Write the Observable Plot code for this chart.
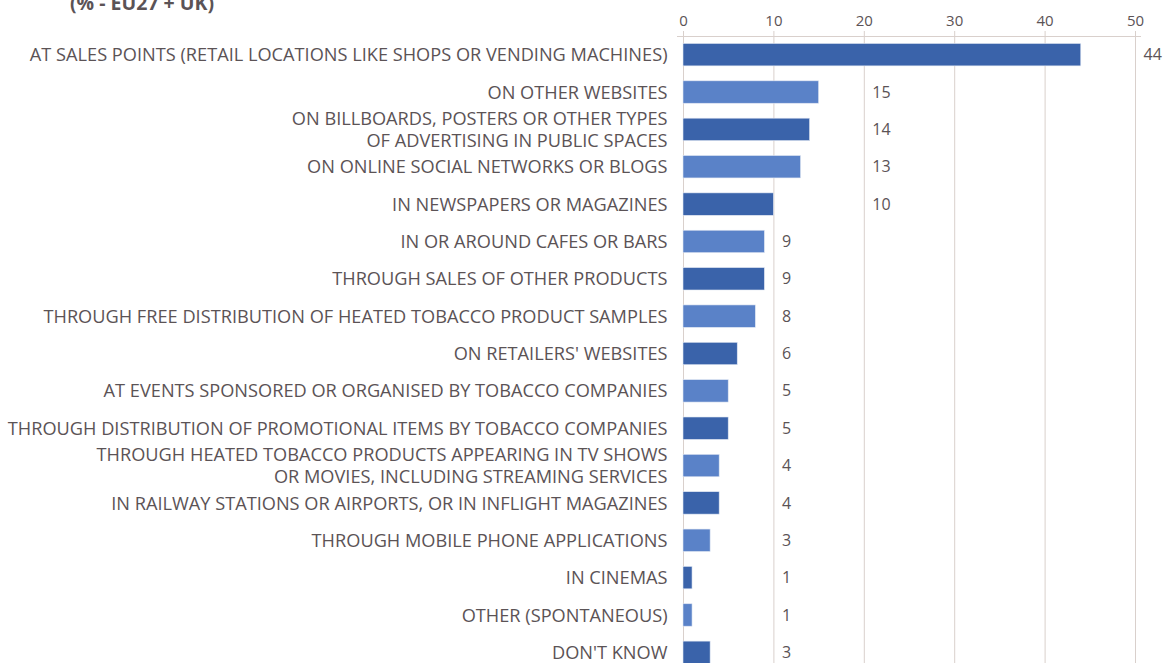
<!DOCTYPE html>
<html>
<head>
<meta charset="utf-8">
<script src="https://cdn.jsdelivr.net/npm/d3@7"></script>
<script src="https://cdn.jsdelivr.net/npm/@observablehq/plot@0.6"></script>
<style>
  html, body { margin: 0; padding: 0; background: #fff; overflow: hidden; }
  #wrap { position: relative; width: 1165px; height: 663px; overflow: hidden; }
  #title { position: absolute; left: 70px; top: -11px; font-family: "Open Sans", sans-serif; font-weight: bold; font-size: 19.5px; color: #5b5356; white-space: nowrap; }
  #chart { position: absolute; left: 0; top: 0; }
</style>
</head>
<body>
<div id="wrap">
  <div id="title">(% - EU27 + UK)</div>
  <div id="chart"></div>
</div>
<script>
const categories = [
  "AT SALES POINTS (RETAIL LOCATIONS LIKE SHOPS OR VENDING MACHINES)",
  "ON OTHER WEBSITES",
  "ON BILLBOARDS, POSTERS OR OTHER TYPES\nOF ADVERTISING IN PUBLIC SPACES",
  "ON ONLINE SOCIAL NETWORKS OR BLOGS",
  "IN NEWSPAPERS OR MAGAZINES",
  "IN OR AROUND CAFES OR BARS",
  "THROUGH SALES OF OTHER PRODUCTS",
  "THROUGH FREE DISTRIBUTION OF HEATED TOBACCO PRODUCT SAMPLES",
  "ON RETAILERS' WEBSITES",
  "AT EVENTS SPONSORED OR ORGANISED BY TOBACCO COMPANIES",
  "THROUGH DISTRIBUTION OF PROMOTIONAL ITEMS BY TOBACCO COMPANIES",
  "THROUGH HEATED TOBACCO PRODUCTS APPEARING IN TV SHOWS\nOR MOVIES, INCLUDING STREAMING SERVICES",
  "IN RAILWAY STATIONS OR AIRPORTS, OR IN INFLIGHT MAGAZINES",
  "THROUGH MOBILE PHONE APPLICATIONS",
  "IN CINEMAS",
  "OTHER (SPONTANEOUS)",
  "DON'T KNOW"
];
const values = [44, 15, 14, 13, 10, 9, 9, 8, 6, 5, 5, 4, 4, 3, 1, 1, 3];
const xTicks = [0, 10, 20, 30, 40, 50];
const barColors = ["#3a63aa", "#5a82c8"];

const data = categories.map((c, i) => ({
  cat: c,
  value: values[i],
  shade: i % 2 === 0 ? "dark" : "light",
  labelX: (Math.floor(values[i] / 10) + 1) * 10
}));

const textColor = "#5b5356";
const gridColor = "#d9d0cc";

const chart = Plot.plot({
  width: 1165,
  height: 671,
  marginTop: 36,
  marginBottom: 0,
  marginLeft: 677,
  insetLeft: 6,
  marginRight: 25,
  insetRight: 5,
  style: { fontFamily: "'Open Sans', sans-serif", color: textColor, background: "transparent" },
  x: { domain: [0, 50], ticks: xTicks },
  y: { domain: categories, paddingInner: 0.4, paddingOuter: 0.2, round: false, axis: null },
  color: { domain: ["dark", "light"], range: barColors },
  marks: [
    Plot.gridX(xTicks, { stroke: gridColor, strokeOpacity: 1, strokeWidth: 1 }),
    Plot.frame({ anchor: "top", stroke: gridColor, strokeWidth: 1 }),
    Plot.axisX({ anchor: "top", ticks: xTicks, tickSize: 6, tickPadding: 5, stroke: gridColor, fontSize: 15, fill: textColor, label: null }),
    Plot.barX(data, { x: "value", y: "cat", fill: "shade", stroke: "#dfe6f2", strokeWidth: 0.6 }),
    Plot.text(data, { x: 0, y: "cat", text: "cat", textAnchor: "end", dx: -16, dy: -1, fontSize: 18.2, fill: textColor, lineHeight: 1.22 }),
    Plot.text(data, { x: "labelX", y: "cat", text: d => String(d.value), textAnchor: "start", dx: 8, fontSize: 16, fill: textColor })
  ]
});
document.getElementById("chart").appendChild(chart);
</script>
</body>
</html>
